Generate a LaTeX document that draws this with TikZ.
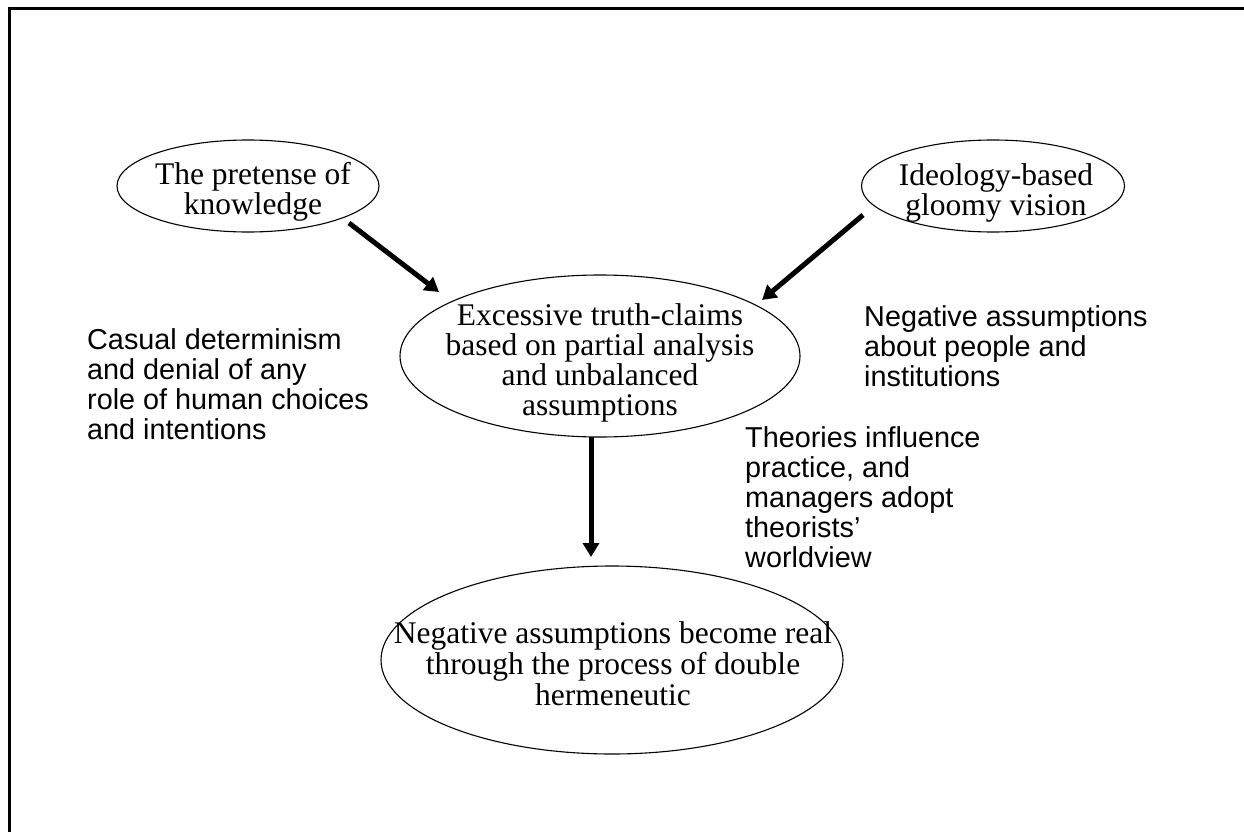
\documentclass[tikz,border=0pt]{standalone}
\usepackage{fontspec}
\setmainfont{Liberation Serif}
\newfontfamily\notefont{Liberation Sans}
\usetikzlibrary{shapes.geometric,arrows.meta}

\tikzset{
  bubble/.style={ellipse, draw, line width=1.1pt, inner sep=0pt},
  % multi-line texts are anchored at the baseline of their last line
  bubbletext/.style={font=\fontsize{31.5}{30}\selectfont, align=center,
    anchor=base, inner sep=0pt},
  note/.style={font=\notefont\fontsize{28.8}{29.7}\selectfont, align=left,
    anchor=base west, inner sep=0pt},
  bigarrow/.style={line width=5pt, -{Triangle[width=16pt,length=14pt]}},
  frame/.style={line width=3pt}
}

\begin{document}
\begin{tikzpicture}[x=1pt,y=-1pt]
  \useasboundingbox (0,0) rectangle (1244,832);
  \clip (0,0) rectangle (1244,832);

  % outer frame (runs past the right and bottom edges)
  \draw[frame] (9,9) rectangle (1270,860);

  % ellipses
  \node[bubble, minimum width=262pt, minimum height=92pt] (pretense) at (248,186) {};
  \node[bubble, minimum width=263pt, minimum height=92pt] (ideology) at (993,186) {};
  \node[bubble, minimum width=400pt, minimum height=162pt] (truth) at (600,356) {};
  \node[bubble, minimum width=462pt, minimum height=188pt] (real) at (612,660) {};

  % ellipse texts
  \node[bubbletext] (pretenseT) at (253,214) {The pretense of\\knowledge};
  \node[bubbletext] (ideologyT) at (996,215) {Ideology-based\\gloomy vision};
  \node[bubbletext] (truthT) at (600,415) {Excessive truth-claims\\based on partial analysis\\and unbalanced\\assumptions};
  \node[bubbletext, font=\fontsize{31.5}{31}\selectfont] (realT) at (613,705)
    {Negative assumptions become real\\through the process of double\\hermeneutic};

  % side notes
  \node[note] (causal) at (87,439) {Casual determinism\\and denial of any\\role of human choices\\and intentions};
  \node[note] (negative) at (864,386) {Negative assumptions\\about people and\\institutions};
  \node[note, font=\notefont\fontsize{28.8}{30}\selectfont] (theories) at (745,567)
    {Theories influence\\practice, and\\managers adopt\\theorists’\\worldview};

  % arrow end points
  \coordinate (pretenseOut) at (349,223);
  \coordinate (truthInL) at (439,292);
  \coordinate (ideologyOut) at (863,215);
  \coordinate (truthInR) at (762,300);
  \coordinate (truthOut) at (591,437);
  \coordinate (realIn) at (591,557);

  \draw[bigarrow] (pretenseOut) -- (truthInL);
  \draw[bigarrow] (ideologyOut) -- (truthInR);
  \draw[bigarrow] (truthOut) -- (realIn);
\end{tikzpicture}
\end{document}
